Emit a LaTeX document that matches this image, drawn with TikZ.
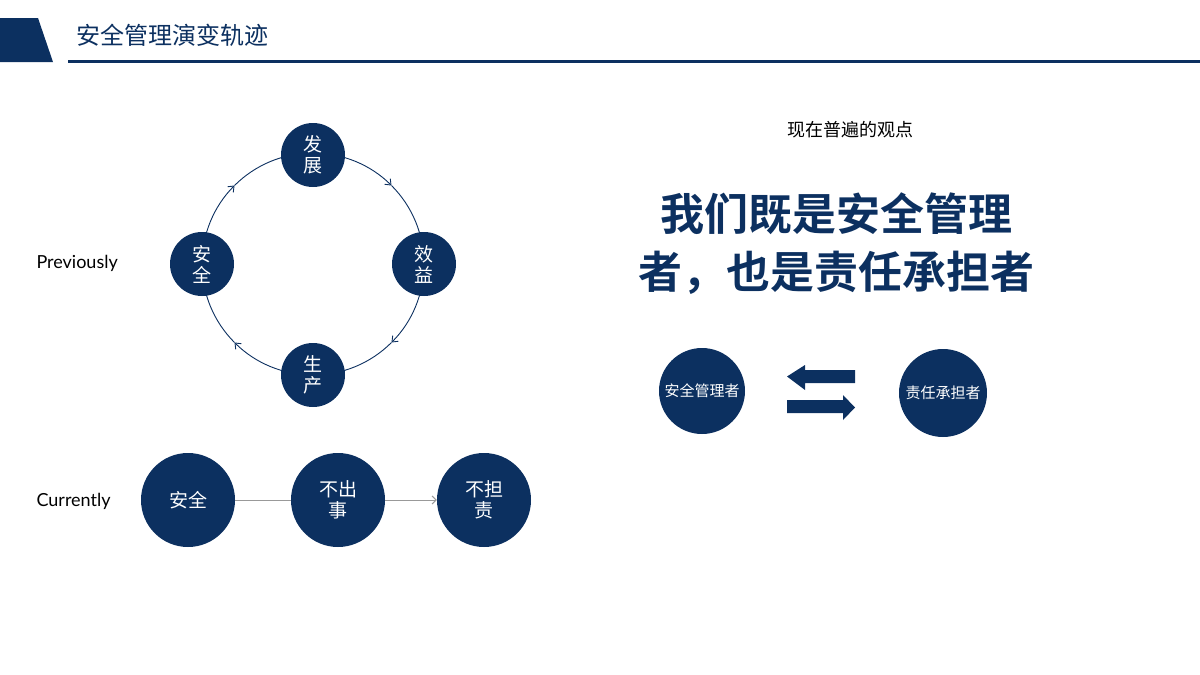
\documentclass[tikz,border=0pt]{standalone}
\usepackage{fontspec}
\setmainfont{Lato}
\newfontfamily\cjk{Noto Sans CJK SC}
\newfontfamily\cjkb{Noto Sans CJK SC Bold}
\usetikzlibrary{arrows.meta}
\definecolor{navy}{RGB}{12,48,96}
\tikzset{
  dot/.style={circle,fill=navy,text=white,inner sep=0pt,align=center,font=\cjk\fontsize{19}{21}\selectfont},
  arcline/.style={draw=navy,line width=0.9pt},
  tip/.style={-{Straight Barb[length=5pt,width=8pt]}},
}
\begin{document}
\begin{tikzpicture}[x=1pt,y=-1pt]
\useasboundingbox (0,0) rectangle (1200,675);
% header
\fill[navy] (0,18) -- (38,18) -- (53,62) -- (0,62) -- cycle;
\draw[navy,line width=3pt] (68,61) -- (1200,61);
\node[anchor=west,text=navy,font=\cjk\fontsize{24}{26}\selectfont] (title) at (73,35) {安全管理演变轨迹};
% cycle
\coordinate (c) at (313,264);
\def\R{111}
\foreach \a/\b in {90/135,180/225,270/315,0/45}{
  \draw[arcline,tip] (c) ++(\a:\R) arc[start angle=\a,end angle=\b,radius=\R];
}
\foreach \a/\b in {135/180,225/270,315/360,45/90}{
  \draw[arcline] (c) ++(\a:\R) arc[start angle=\a,end angle=\b,radius=\R];
}
% note: y axis flipped, so angles mirror; handled by arcs visually
\node[dot,minimum size=64pt] (fz) at (313,155) {发\\展};
\node[dot,minimum size=64pt] (aq) at (202,264) {安\\全};
\node[dot,minimum size=64pt] (xy) at (424,264) {效\\益};
\node[dot,minimum size=64pt] (sc) at (313,375) {生\\产};
\node[anchor=west,font=\fontsize{18}{20}\selectfont] (prev) at (33,263) {Previously};
% currently
\node[anchor=west,font=\fontsize{18}{20}\selectfont] (curr) at (33,501) {Currently};
\node[dot,minimum size=94pt] (b1) at (188,500) {安全};
\node[dot,minimum size=94pt] (b2) at (338,500) {不出\\事};
\node[dot,minimum size=94pt] (b3) at (484,500) {不担\\责};
\draw[gray!80,line width=1pt] (b1) -- (b2);
\draw[gray!80,line width=1pt,tip,-{Straight Barb[length=4pt,width=8pt]}] (b2) -- (b3);
% right
\node[font=\cjk\fontsize{18}{20}\selectfont] (view) at (850,130) {现在普遍的观点};
\node[text=navy,font=\cjkb\fontsize{44}{58}\selectfont,align=center] (big) at (836,244) {我们既是安全管理\\者，也是责任承担者};
\node[dot,minimum size=86pt,font=\cjk\fontsize{15}{17}\selectfont] (m) at (702,391) {安全管理者};
\node[dot,minimum size=88pt,font=\cjk\fontsize{15}{17}\selectfont] (r) at (943,393) {责任承担者};
\fill[navy] (855,370) -- (805,370) -- (805,365) -- (787,376.5) -- (805,390) -- (805,383) -- (855,383) -- cycle;
\fill[navy] (787,400) -- (843,400) -- (843,395) -- (855,407.5) -- (843,420) -- (843,413) -- (787,413) -- cycle;
\end{tikzpicture}
\end{document}
